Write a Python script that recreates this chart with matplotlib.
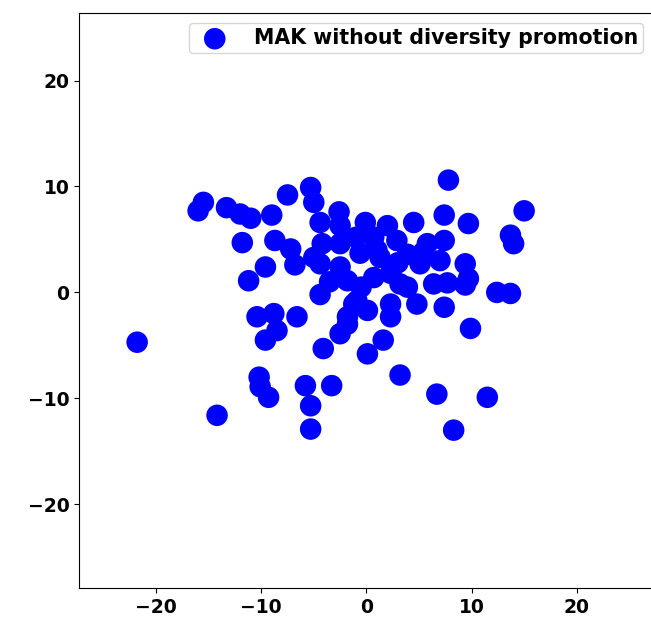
import numpy as np
import matplotlib
matplotlib.use("Agg")
import matplotlib.pyplot as plt

# points
xs = [-21.8, -14.2, -15.5, -16.0, -13.3, -12.0, -11.0, -9.0, -7.5, -5.3,
      -5.0, -11.8, -8.7, -7.2, -6.8, -9.6, -11.2, -4.4, -4.4, -2.6,
      -2.5, -0.1, 2.0, 4.5, 7.4, 9.7, 7.8, 15.0, 13.7, 14.0,
      12.4, 13.7, 7.4, 9.4, 9.7, 9.4, 7.7, 7.0, 5.4, 5.8,
      3.9, 2.9, 0.7, 1.3, -0.6, -4.2, -4.4, -2.5, -2.5, -1.8,
      0.7, 2.3, 3.9, 6.4, 5.1, 3.2, -0.9, 0.1, 2.3, 4.8,
      7.4, 9.9, 0.1, 3.2, 6.7, 11.5, 8.3, 1.6, 2.3, -1.2,
      -1.8, -2.5, -4.1, -3.3, -5.8, -5.3, -5.3, -10.2, -10.1, -9.3,
      -10.4, -8.8, -8.5, -9.6, -6.6, -1.8, -5.0, -0.5, 1.0, 3.0,
      -3.5, -1.0]
ys = [-4.7, -11.6, 8.5, 7.7, 8.0, 7.4, 7.0, 7.3, 9.2, 9.9,
      8.5, 4.7, 4.9, 4.1, 2.6, 2.4, 1.1, -0.2, 6.6, 7.6,
      6.3, 6.6, 6.3, 6.6, 7.3, 6.5, 10.6, 7.7, 5.4, 4.6,
      0.0, -0.1, 4.9, 2.7, 1.3, 0.7, 0.9, 3.0, 3.8, 4.6,
      3.6, 4.9, 5.2, 3.3, 3.7, 4.6, 2.7, 4.6, 2.4, 1.1,
      1.4, 1.8, 0.5, 0.8, 2.7, 0.8, -0.8, -1.7, -1.1, -1.1,
      -1.4, -3.4, -5.8, -7.8, -9.6, -9.9, -13.0, -4.5, -2.3, -1.1,
      -3.0, -3.9, -5.3, -8.8, -8.8, -10.7, -12.9, -8.0, -8.9, -9.9,
      -2.3, -2.0, -3.6, -4.5, -2.3, -2.3, 3.3, 0.5, 4.0, 2.8,
      1.0, 5.2]
label = "MAK without diversity promotion"
ticks = [-20, -10, 0, 10, 20]

fig = plt.figure(figsize=(6.51, 6.26), dpi=100)
ax = fig.add_axes([0.1218, 0.0607, 0.882, 0.919])
ax.scatter(xs, ys, s=240, c="b", edgecolors="none", label=label)
ax.set_xlim(-27.3, 27.3)
ax.set_ylim(-27.9, 26.4)
ax.set_xticks(ticks)
ax.set_yticks(ticks)
for t in ax.get_xticklabels() + ax.get_yticklabels():
    t.set_fontweight("bold")
    t.set_fontsize(13.5)
ax.legend(loc="upper right", prop={"weight": "bold", "size": 14.8},
          borderpad=0.25, handletextpad=0.9, borderaxespad=0.5)

plt.savefig("out.png", dpi=100)
